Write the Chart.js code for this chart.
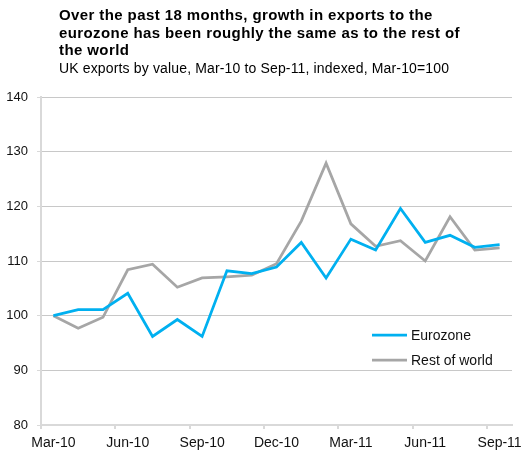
<!DOCTYPE html>
<html>
<head>
<meta charset="utf-8">
<script src="https://cdn.jsdelivr.net/npm/chart.js@4/dist/chart.umd.min.js"></script>
<style>
  html, body { margin: 0; padding: 0; background: #fff; }
  #wrap { position: relative; width: 522px; height: 454px; font-family: "Liberation Sans", Arial, sans-serif; }
  #title { position: absolute; left: 59px; top: 6px; font-size: 15px; font-weight: bold; line-height: 17.5px; letter-spacing: 0.4px; color: #000; }
  #subtitle { position: absolute; left: 59px; top: 59px; font-size: 14px; line-height: 18px; letter-spacing: 0.15px; color: #000; }
  canvas { position: absolute; left: 0; top: 0; }
</style>
</head>
<body>
<div id="wrap">
  <canvas id="c" width="522" height="454"></canvas>
  <div id="title">Over the past 18 months, growth in exports to the<br>eurozone has been roughly the same as to the rest of<br>the world</div>
  <div id="subtitle">UK exports by value, Mar-10 to Sep-11, indexed, Mar-10=100</div>
</div>
<script>
// Monthly categories, Mar-10 .. Sep-11
const months = ['Mar-10', 'Apr-10', 'May-10', 'Jun-10', 'Jul-10', 'Aug-10', 'Sep-10', 'Oct-10', 'Nov-10',
                'Dec-10', 'Jan-11', 'Feb-11', 'Mar-11', 'Apr-11', 'May-11', 'Jun-11', 'Jul-11', 'Aug-11', 'Sep-11'];

// Export values, indexed Mar-10 = 100
const eurozone = [100, 101.1, 101.1, 104.1, 96.2, 99.3, 96.2, 108.2, 107.7, 108.9,
                  113.4, 106.9, 114.0, 112.0, 119.6, 113.4, 114.7, 112.5, 113.0];
const restOfWorld = [100, 97.7, 99.7, 108.4, 109.4, 105.2, 106.9, 107.1, 107.4, 109.5,
                     117.3, 127.9, 116.8, 112.7, 113.7, 110.0, 118.1, 112.0, 112.4];

const seriesNames = ['Eurozone', 'Rest of world'];
const yTicks = { min: 80, max: 140, step: 10 };

// Legend drawn inside the plot area, lower right
const insideLegend = {
  id: 'insideLegend',
  afterDraw(chart) {
    const ctx = chart.ctx;
    ctx.save();
    ctx.font = '14px "Liberation Sans", Arial, sans-serif';
    ctx.textBaseline = 'middle';
    ctx.textAlign = 'left';
    chart.data.datasets.forEach((ds, i) => {
      const y = 335 + i * 25;
      ctx.strokeStyle = ds.borderColor;
      ctx.lineWidth = ds.borderWidth;
      ctx.beginPath();
      ctx.moveTo(372, y);
      ctx.lineTo(407, y);
      ctx.stroke();
      ctx.fillStyle = '#111';
      ctx.fillText(ds.label, 411, y + 1);
    });
    ctx.restore();
  }
};

new Chart(document.getElementById('c'), {
  type: 'line',
  data: {
    labels: months,
    datasets: [
      { label: seriesNames[0], data: eurozone, borderColor: '#00b0f0', backgroundColor: '#00b0f0',
        borderWidth: 2.75, pointRadius: 0, tension: 0 },
      { label: seriesNames[1], data: restOfWorld, borderColor: '#a6a6a6', backgroundColor: '#a6a6a6',
        borderWidth: 2.75, pointRadius: 0, tension: 0 }
    ]
  },
  options: {
    responsive: false,
    animation: false,
    layout: { padding: { top: 97, right: 10, left: 0, bottom: 0 } },
    plugins: {
      legend: { display: false },
      tooltip: { enabled: false }
    },
    scales: {
      x: {
        offset: true,
        afterFit(scale) {
          scale.height = 29;
          // let the last label run into the right margin instead of shrinking the plot
          scale.paddingLeft = 0;
          scale.paddingRight = 0;
        },
        border: { color: '#d9d9d9', width: 2 },
        grid: {
          offset: true,
          drawOnChartArea: false,
          drawTicks: true,
          tickLength: 4,
          lineWidth: 2,
          color: (ctx) => (ctx.type === 'tick' && ctx.index % 3 === 0) ? '#d9d9d9' : 'rgba(0,0,0,0)'
        },
        ticks: {
          autoSkip: false,
          maxRotation: 0,
          padding: 6,
          color: '#111',
          font: { family: '"Liberation Sans", Arial, sans-serif', size: 14 },
          callback: (val, i) => (i % 3 === 0 ? months[i] : '')
        }
      },
      y: {
        min: yTicks.min,
        max: yTicks.max,
        afterFit(scale) { scale.width = 41; },
        border: { color: '#d9d9d9', width: 2 },
        grid: {
          color: '#c8c8c8',
          lineWidth: 1,
          borderDash: [1.5, 2.3],
          tickColor: '#d9d9d9',
          tickBorderDash: [],
          tickLength: 4,
          drawTicks: true
        },
        ticks: {
          stepSize: yTicks.step,
          padding: 9,
          color: '#111',
          font: { family: '"Liberation Sans", Arial, sans-serif', size: 13 }
        }
      }
    }
  },
  plugins: [insideLegend]
});
</script>
</body>
</html>
